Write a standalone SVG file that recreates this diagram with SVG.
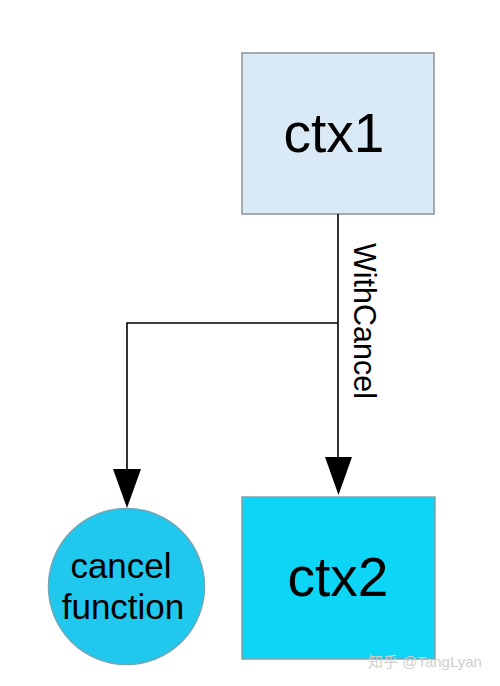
<svg xmlns="http://www.w3.org/2000/svg" width="500" height="686" viewBox="0 0 500 686">
<defs>
<style>
.lbl{font-family:"Liberation Sans",Arial,sans-serif;fill:#000;text-anchor:middle}
.edge{stroke:#000;stroke-width:1.6;fill:none}
.head{fill:#000}
</style>
</defs>
<rect x="0" y="0" width="500" height="686" fill="#fff"/>
<g id="ctx1">
<rect x="242" y="53" width="192" height="161" fill="#d9e9f5" stroke="#8a9298" stroke-width="1.5"/>
<text class="lbl" x="334" y="152" font-size="55">ctx1</text>
</g>
<g id="ctx2">
<rect x="242" y="497" width="193" height="162" fill="#0cd5f5" stroke="#7fa2ad" stroke-width="1.5"/>
<text class="lbl" x="338" y="596" font-size="55">ctx2</text>
</g>
<g id="cancel">
<circle cx="126.5" cy="586.5" r="78" fill="#1fc8ec" stroke="#6fa6b8" stroke-width="1.5"/>
<text class="lbl" x="121" y="578" font-size="35">cancel</text>
<text class="lbl" x="123" y="619" font-size="35">function</text>
</g>
<g id="connectors">
<path class="edge" d="M338,214 V460"/>
<path class="edge" d="M338,323 H127 V472"/>
<polygon class="head" points="325,457 352,457 338.5,495"/>
<polygon class="head" points="113,469 141,469 127,508"/>
<text class="lbl" font-size="30.5" style="text-anchor:start" transform="translate(354,243) rotate(90)">WithCancel</text>
</g>
<text x="368" y="667" font-family="'Liberation Sans','Noto Sans CJK SC',sans-serif" font-size="15" fill="#cfcfcf">知乎 @TangLyan</text>
</svg>
